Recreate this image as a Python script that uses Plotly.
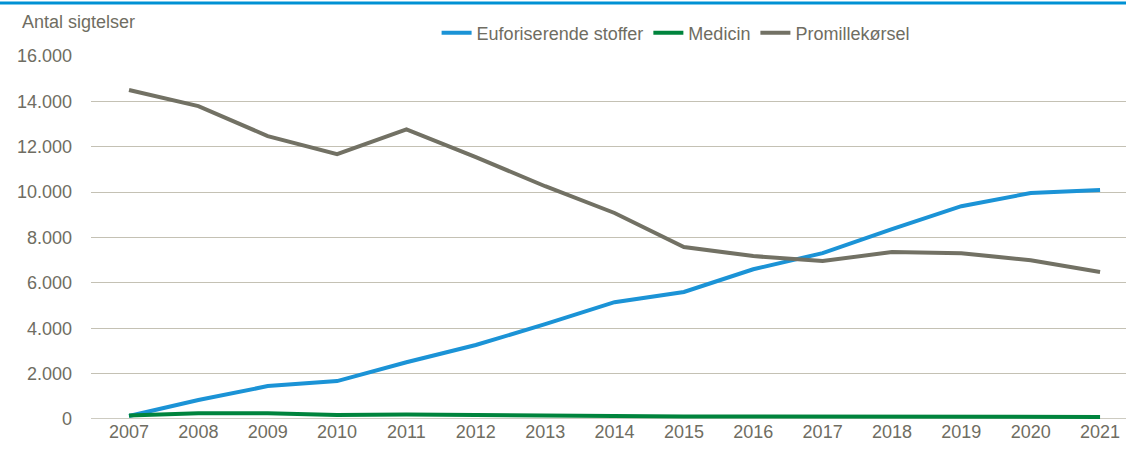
import plotly.graph_objects as go

years = list(range(2007, 2022))
euforiserende = [130, 840, 1450, 1670, 2500, 3260, 4180, 5150, 5600, 6600, 7310, 8370, 9380, 9960, 10090]
medicin = [150, 250, 250, 180, 200, 170, 140, 120, 110, 110, 100, 110, 80, 90, 90]
promille = [14500, 13790, 12470, 11670, 12770, 11540, 10260, 9080, 7580, 7180, 6960, 7360, 7310, 7000, 6480]

series = [
    ("Euforiserende stoffer", euforiserende, "#1B93D6"),
    ("Medicin", medicin, "#00843D"),
    ("Promillekørsel", promille, "#727164"),
]
yticks = [0, 2000, 4000, 6000, 8000, 10000, 12000, 14000, 16000]
ytick_text = ["0", "2.000", "4.000", "6.000", "8.000", "10.000", "12.000", "14.000", "16.000"]

FONT = "Liberation Sans Narrow, Arial Narrow, Liberation Sans, Arial, sans-serif"
TXT = "#6F6D62"

fig = go.Figure()
for name, vals, col in series:
    fig.add_trace(go.Scatter(x=years, y=vals, name=name, mode="lines",
                             line=dict(color=col, width=4)))

fig.update_layout(
    width=1126, height=457,
    margin=dict(l=91, r=0, t=56, b=38),
    paper_bgcolor="white", plot_bgcolor="white",
    font=dict(family=FONT, size=18, color=TXT),
    showlegend=True,
    legend=dict(orientation="h", x=0.6, xanchor="center", xref="container",
                y=1 - 33 / 457, yanchor="middle", yref="container",
                font=dict(size=18, color=TXT), bgcolor="rgba(0,0,0,0)",
                traceorder="normal"),
    xaxis=dict(range=[2006.452, 2021.374], tickmode="array", tickvals=years,
               ticktext=[str(y) for y in years], showgrid=False, zeroline=False,
               showline=False, ticks="", automargin=False,
               tickfont=dict(size=18, color=TXT)),
    yaxis=dict(range=[0, 16000], tickmode="array", tickvals=yticks, ticktext=ytick_text,
               showgrid=True, gridcolor="#C4C1B4", gridwidth=1, zeroline=False,
               showline=False, ticks="", ticklabelstandoff=18, automargin=False,
               tickfont=dict(size=18, color=TXT)),
    shapes=[dict(type="line", xref="paper", yref="paper", x0=-0.2, x1=1.1,
                 y0=1.146, y1=1.146, line=dict(color="#0091D4", width=3)),
            dict(type="line", xref="paper", yref="y", x0=0, x1=1, y0=0, y1=0,
                 line=dict(color="#BDBAAC", width=1.5), layer="below")],
    annotations=[dict(text="Antal sigtelser", xref="paper", yref="paper",
                      x=-0.069, y=1.094, xanchor="left", yanchor="middle",
                      showarrow=False, font=dict(size=18, color=TXT))],
)

fig.write_html("out.html", config={"displayModeBar": False},
               post_script="document.body.style.margin='0';document.body.style.padding='0';")
